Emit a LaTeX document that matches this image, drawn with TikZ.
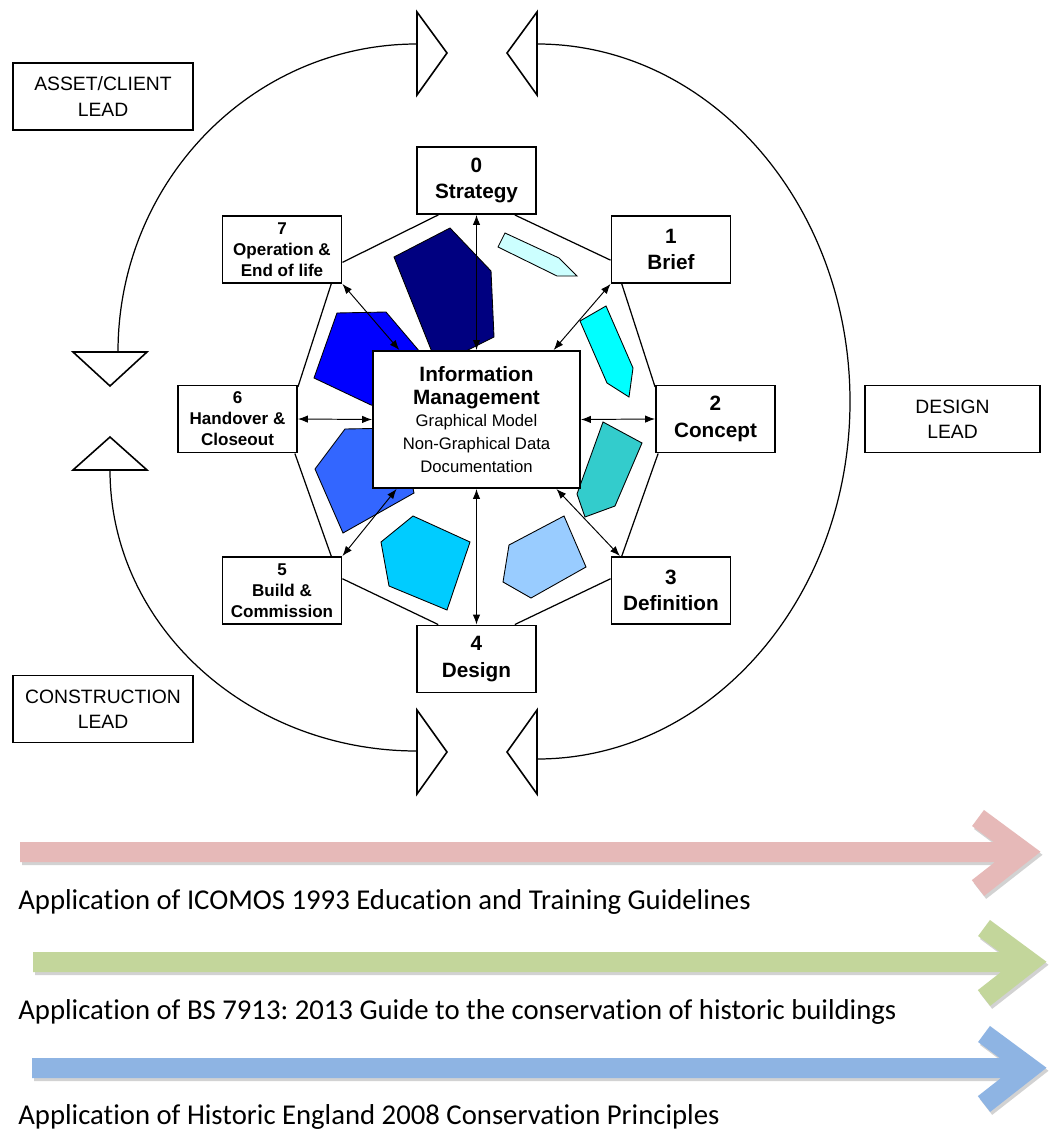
\documentclass[tikz,border=0pt]{standalone}
\usepackage{fontspec}
\setmainfont{Liberation Sans}
\newfontfamily\calibri[Ligatures=NoCommon]{Carlito}
\usetikzlibrary{arrows.meta}
\definecolor{marinho}{HTML}{000080}
\definecolor{azulpuro}{HTML}{0000FF}
\definecolor{azulreal}{HTML}{3366FF}
\definecolor{celeste}{HTML}{00CCFF}
\definecolor{azulclaro}{HTML}{99CCFF}
\definecolor{petroleo}{HTML}{33CCCC}
\definecolor{ciano}{HTML}{00FFFF}
\definecolor{cianoclaro}{HTML}{CCFFFF}
\definecolor{rosa}{HTML}{E6B9B8}
\definecolor{verde}{HTML}{C3D69B}
\definecolor{azulfaixa}{HTML}{8EB4E3}
\frenchspacing

\begin{document}
\begin{tikzpicture}[x=0.02cm,y=-0.02cm,
  fase/.style={draw,line width=1.1pt,fill=white,minimum width=2.38cm,minimum height=1.34cm,
    inner sep=0pt,align=center,font=\bfseries\fontsize{11.8}{15.2}\selectfont},
  fasep/.style={fase,font=\bfseries\fontsize{9.7}{11.9}\selectfont},
  lider/.style={draw,line width=1.1pt,minimum width=3.6cm,minimum height=1.34cm,
    inner sep=0pt,align=center,font=\fontsize{11}{14.5}\selectfont},
  seta/.style={{Latex[length=2mm,width=1.5mm]}-{Latex[length=2mm,width=1.5mm]},line width=0.55pt},
  anel/.style={line width=0.7pt},
  pedra/.style={draw=black,line width=0.5pt},
  ponta/.style={draw,line width=0.9pt,fill=white,line join=miter},
  faixa/.style={line width=0.4cm,line join=miter},
  texto/.style={inner sep=0pt,anchor=base west,font=\calibri\fontsize{16.35}{19}\selectfont}]
  \useasboundingbox[fill=white] (0,0) rectangle (1048,1135);

  % pedras coloridas
  \filldraw[fill=marinho,pedra] (394,257) -- (450,228) -- (491,271) -- (494,337) -- (464,352) -- (432,352) -- cycle;
  \filldraw[fill=cianoclaro,pedra] (505,233) -- (559,258) -- (577,276) -- (557,276) -- (498,247) -- cycle;
  \filldraw[fill=ciano,pedra] (580,321) -- (606,306) -- (633,368) -- (629,397) -- (607,383) -- cycle;
  \filldraw[fill=petroleo,pedra] (603,422) -- (642,443) -- (615,506) -- (585,517) -- (577,494) -- cycle;
  \filldraw[fill=azulclaro,pedra] (509,545) -- (564,516) -- (586,567) -- (531,598) -- (503,582) -- cycle;
  \filldraw[fill=celeste,pedra] (413,516) -- (470,542) -- (447,610) -- (389,586) -- (381,542) -- cycle;
  \filldraw[fill=azulreal,pedra] (345,429) -- (400,428) -- (414,493) -- (343,533) -- (315,469) -- cycle;
  \filldraw[fill=azulpuro,pedra] (337,313) -- (386,312) -- (420,352) -- (400,410) -- (371,405) -- (314,378) -- cycle;

  % centro e fases
  \node[fase,minimum width=4.14cm,minimum height=2.74cm,font=\fontsize{9.5}{13}\selectfont] (im) at (476.5,419.5)
    {{\bfseries\fontsize{11.8}{13}\selectfont Information}\\{\bfseries\fontsize{11.8}{13}\selectfont Management}\\Graphical Model\\Non-Graphical Data\\Documentation};
  \node[fase] (b0) at (476.5,180.5) {0\\Strategy};
  \node[fase] (b1) at (671,249.5) {1\\Brief};
  \node[fase] (b2) at (715.5,419) {2\\Concept};
  \node[fase] (b3) at (671,590.5) {3\\Definition};
  \node[fase] (b4) at (476.5,659) {4\\Design};
  \node[fasep] (b5) at (282,590.5) {5\\Build \&\\Commission};
  \node[fasep] (b6) at (237.5,419) {6\\Handover \&\\Closeout};
  \node[fasep] (b7) at (282,249.5) {7\\Operation \&\\End of life};

  % octogono
  \draw[anel] (b0.222) -- (b7.-12);
  \draw[anel] (b0.-42) -- (b1.190);
  \draw[anel] (b7.-35) -- (b6.28);
  \draw[anel] (b1.215) -- (b2.152);
  \draw[anel] (b6.-31) -- (b5.35);
  \draw[anel] (b2.211) -- (b3.145);
  \draw[anel] (b5.11) -- (b4.138);
  \draw[anel] (b3.169) -- (b4.42);

  % setas do centro
  \draw[seta] (im.north) -- (b0.south);
  \draw[seta] (im.42) -- (b1.south west);
  \draw[seta] (im.east) -- (b2.west);
  \draw[seta] (im.-41) -- (b3.146);
  \draw[seta] (im.south) -- (b4.north);
  \draw[seta] (im.221) -- (b5.north east);
  \draw[seta] (im.west) -- (b6.east);
  \draw[seta] (im.138) -- (b7.south east);

  % lideres
  \node[lider] (cliente) at (103,96.5) {ASSET/CLIENT\\LEAD};
  \node[lider,minimum width=3.5cm] (projeto) at (952.5,419) {DESIGN\\LEAD};
  \node[lider] (obra) at (103,709) {CONSTRUCTION\\LEAD};

  % arcos externos
  \coordinate (ac) at (417,44);
  \coordinate (ad) at (537,44);
  \coordinate (ae) at (118,352);
  \coordinate (af) at (110,470);
  \coordinate (ag) at (417,751);
  \coordinate (ah) at (537,759);
  \draw[anel] (ac) arc[start angle=270,end angle=180,x radius=299,y radius=308];
  \draw[anel] (ad) arc[start angle=-90,end angle=90,x radius=313,y radius=357.5];
  \draw[anel] (af) arc[start angle=180,end angle=90,x radius=307,y radius=281];

  % pontas triangulares
  \draw[ponta] (417,12) -- (447,53) -- (417,95) -- cycle;
  \draw[ponta] (537,12) -- (507,53) -- (537,95) -- cycle;
  \draw[ponta] (73,352) -- (147,352) -- (110,386) -- cycle;
  \draw[ponta] (73,470) -- (147,470) -- (110,437) -- cycle;
  \draw[ponta] (417,710) -- (447,752) -- (417,794) -- cycle;
  \draw[ponta] (537,710) -- (507,752) -- (537,794) -- cycle;

  % faixas de baixo
  \draw[faixa,gray!35] (22,855) -- (1022,855) (980,821) -- (1026,855) -- (980,891);
  \draw[faixa,rosa] (20,852) -- (1020,852) (978,818) -- (1024,852) -- (978,888);
  \node[texto] (icomos) at (18,909) {Application of ICOMOS 1993 Education and Training Guidelines};

  \draw[faixa,gray!35] (35,965) -- (1030,965) (986,931) -- (1032,965) -- (986,1001);
  \draw[faixa,verde] (33,962) -- (1028,962) (984,928) -- (1030,962) -- (984,998);
  \node[texto] (bs) at (18,1019) {Application of BS 7913: 2013 Guide to the conservation of historic buildings};

  \draw[faixa,gray!35] (34,1071) -- (1030,1071) (986,1037) -- (1032,1071) -- (986,1107);
  \draw[faixa,azulfaixa] (32,1068) -- (1028,1068) (984,1034) -- (1030,1068) -- (984,1104);
  \node[texto] (he) at (18,1124) {Application of Historic England 2008 Conservation Principles};
\end{tikzpicture}
\end{document}
